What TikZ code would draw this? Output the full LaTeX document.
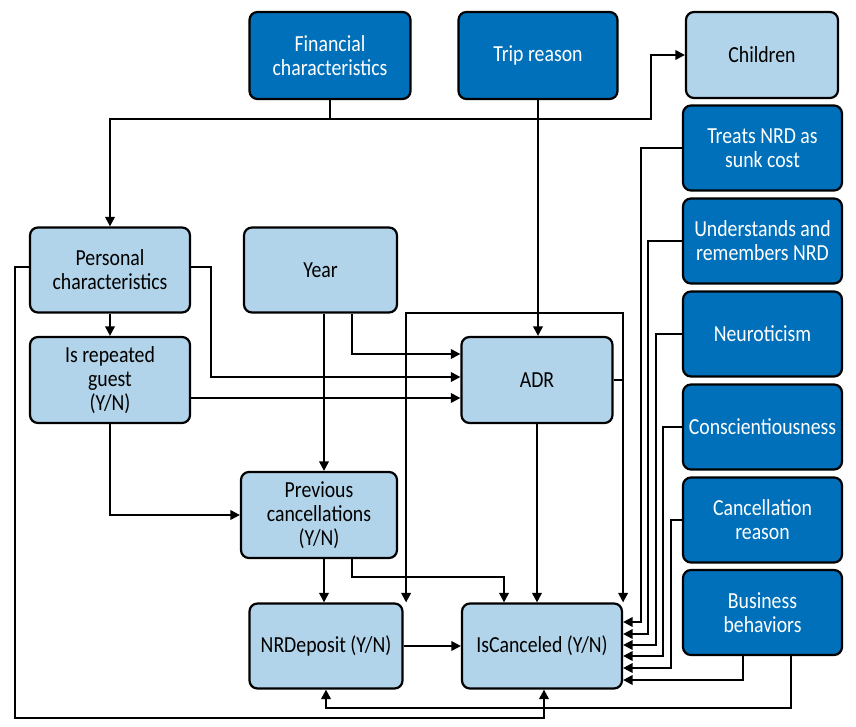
\documentclass[tikz,border=0pt]{standalone}
\usepackage{fontspec}
\setmainfont{Carlito}[FakeStretch=0.86]
\usepackage{xcolor}
\usepackage{tikz}
\usetikzlibrary{arrows.meta,calc}
\definecolor{darkblue}{RGB}{0,112,186}
\definecolor{lightblue}{RGB}{178,212,234}

\begin{document}
\begin{tikzpicture}[x=1pt, y=-1pt, every node/.style={draw, line width=2.2pt, rounded corners=8pt, align=center, inner sep=0pt, font=\fontsize{23}{24}\selectfont}, dark/.style={fill=darkblue, text=white}, light/.style={fill=lightblue}]
\useasboundingbox (0,0) rectangle (856,727);

\node(fin)[dark, minimum width=161pt, minimum height=87pt] at (330,55.5) {Financial\\characteristics};
\node(trip)[dark, minimum width=159pt, minimum height=87pt] at (538,55.5) {Trip reason};
\node(child)[light, minimum width=152pt, minimum height=86pt] at (762,55) {Children};

\node(sunk)[dark, minimum width=159pt, minimum height=85pt] at (762.5,148) {Treats NRD as\\sunk cost};
\node(remem)[dark, minimum width=159pt, minimum height=85pt] at (762.5,241) {Understands and\\remembers NRD};
\node(neuro)[dark, minimum width=159pt, minimum height=85pt] at (762.5,334) {Neuroticism};
\node(consc)[dark, minimum width=159pt, minimum height=85pt] at (762.5,427) {Conscientiousness};
\node(creason)[dark, minimum width=159pt, minimum height=85pt] at (762.5,520) {Cancellation\\reason};
\node(busi)[dark, minimum width=159pt, minimum height=85pt] at (762.5,612.5) {Business\\behaviors};

\node(pers)[light, minimum width=160pt, minimum height=85pt] at (110,270) {Personal\\characteristics};
\node(rep)[light, minimum width=160pt, minimum height=86pt] at (110,380) {Is repeated\\guest\\(Y/N)};
\node(year)[light, minimum width=153pt, minimum height=85pt] at (320.5,270) {Year};
\node(adr)[light, minimum width=151pt, minimum height=86pt] at (537,380) {ADR};
\node(prev)[light, minimum width=156pt, minimum height=86pt] at (319,515) {Previous\\cancellations\\(Y/N)};
\node(nrd)[light, minimum width=153pt, minimum height=85pt] at (326,646) {NRDeposit (Y/N)};
\node(canc)[light, minimum width=160pt, minimum height=85pt] at (542,646) {IsCanceled (Y/N)};

\begin{scope}[>={Triangle[length=9.5pt,width=9.5pt]}, line width=2pt]
\coordinate (fj) at ($(fin.south)+(0,19)$);
\draw (fin.south) -- (fj);
\draw[->] (fj) -| (pers.north);
\draw[->] (fj) -| ($(child.west)+(-34,0)$) -- (child.west);
\draw[->] (trip.south) -- (trip.south |- adr.north);
\draw[->] (pers.south) -- (rep.north);
\draw[->] ($(pers.east)+(0,-3)$) -- ++(20,0) |- ($(adr.west)+(0,-3)$);
\draw[->] ($(rep.east)+(0,18)$) -- ($(adr.west)+(0,18)$);
\draw[->] ($(year.south)+(31.5,0)$) |- ($(adr.west)+(0,-26)$);
\draw[->] ($(year.south)+(3.5,0)$) coordinate (y1) -- (y1 |- prev.north);
\draw[->] (rep.south) |- (prev.west);
\draw[->] ($(prev.south)+(5,0)$) coordinate (p1) -- (p1 |- nrd.north);
\draw[->] ($(prev.south)+(33,0)$) -- ++(0,18) -| ($(canc.north)+(-38,0)$);
\draw[->] (adr.south) -- (adr.south |- canc.north);
\draw[->] (adr.east) -| (canc.north east);
\draw[->] (adr.east -| canc.east) -- ++(0,-67) -| ($(nrd.north east)+(2.5,0)$);
\draw[->] (nrd.east) -- (canc.west);

\draw[->] (sunk.west) -- ++(-41,0) |- ($(canc.east)+(0,-24)$);
\draw[->] (remem.west) -- ++(-33.5,0) |- ($(canc.east)+(0,-12)$);
\draw[->] (neuro.west) -- ++(-26,0) |- ($(canc.east)+(0,-1)$);
\draw[->] (consc.west) -- ++(-18.5,0) |- ($(canc.east)+(0,10)$);
\draw[->] (creason.west) -- ++(-11,0) |- ($(canc.east)+(0,22)$);
\draw[->] ($(busi.south)+(-19.5,0)$) |- ($(canc.east)+(0,34)$);
\draw[->] ($(busi.south)+(28.5,0)$) |- ($(nrd.south)+(0,18.5)$) -- (nrd.south);
\draw[->] ($(pers.west)+(0,-3)$) -- ++(-14,0) |- ($(canc.south)+(2,28.5)$) -- ($(canc.south)+(2,0)$);
\end{scope}

\end{tikzpicture}
\end{document}
